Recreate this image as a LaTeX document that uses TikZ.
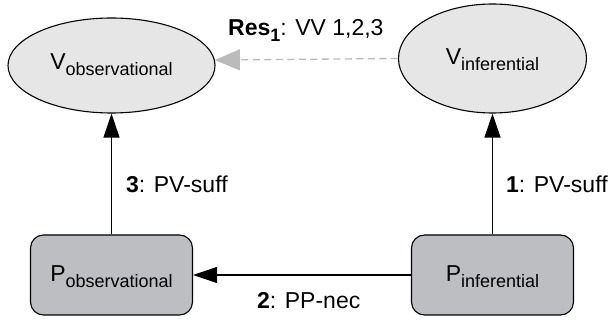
\documentclass[tikz,border=0pt]{standalone}
\usepackage{fontspec}
\setmainfont{Liberation Sans}
\usetikzlibrary{arrows.meta,shapes.geometric}
\definecolor{ellfill}{HTML}{E6E6E7}
\definecolor{boxfill}{HTML}{BDBEC1}
\definecolor{relgray}{HTML}{BBBBBB}
% lowered, smaller subscript text
\newcommand\lowtext[1]{\raisebox{-6pt}{\fontsize{18}{20}\selectfont #1}}
\begin{document}
\begin{tikzpicture}[x=1pt,y=-1pt,
  every node/.style={font=\fontsize{23}{27}\selectfont},
  state/.style={draw, line width=1.1pt, ellipse, fill=ellfill, inner sep=0pt},
  proc/.style={draw, line width=1.1pt, rectangle, rounded corners=13pt, fill=boxfill,
    minimum width=162pt, minimum height=80pt, inner sep=0pt},
  txt/.style={inner sep=0pt, anchor=base},
  lbl/.style={inner sep=0pt, anchor=base west},
  link/.style={line width=1.1pt, -{Triangle[length=24pt,width=16pt]}},
  weak/.style={line width=1.3pt, relgray, dash pattern=on 7pt off 4.5pt,
    -{Triangle[length=25pt,width=21pt]}}]
\useasboundingbox (0,0) rectangle (611,320);

% value nodes (ellipses) and procedure nodes (rounded boxes)
\node[state, minimum width=207pt, minimum height=95pt] (vobs) at (111.5,65.5) {};
\node[state, minimum width=188pt, minimum height=109pt] (vinf) at (492.5,58.5) {};
\node[proc] (pobs) at (111.5,275) {};
\node[proc] (pinf) at (492.5,275) {};

% node texts
\node[txt] (tvobs) at (111.5,70) {V\lowtext{observational}};
\node[txt] (tvinf) at (492.5,65) {V\lowtext{inferential}};
\node[txt] (tpobs) at (111.5,282) {P\lowtext{observational}};
\node[txt] (tpinf) at (492.5,282) {P\lowtext{inferential}};

% relations
\draw[weak] (vinf.west) -- (vobs.3.9);
\draw[link] (pobs.north) -- (vobs.south);
\draw[link] (pinf.north) -- (vinf.south);
\draw[link] (pinf.west) -- (pobs.east);

% relation labels
\node[lbl] (lres) at (228,36) {\textbf{Res\lowtext{1}}: VV 1,2,3};
\node[lbl] (l3) at (126,193) {\textbf{3}: PV-suff};
\node[lbl] (l1) at (506,193) {\textbf{1}: PV-suff};
\node[lbl] (l2) at (257,309) {\textbf{2}: PP-nec};
\end{tikzpicture}
\end{document}
